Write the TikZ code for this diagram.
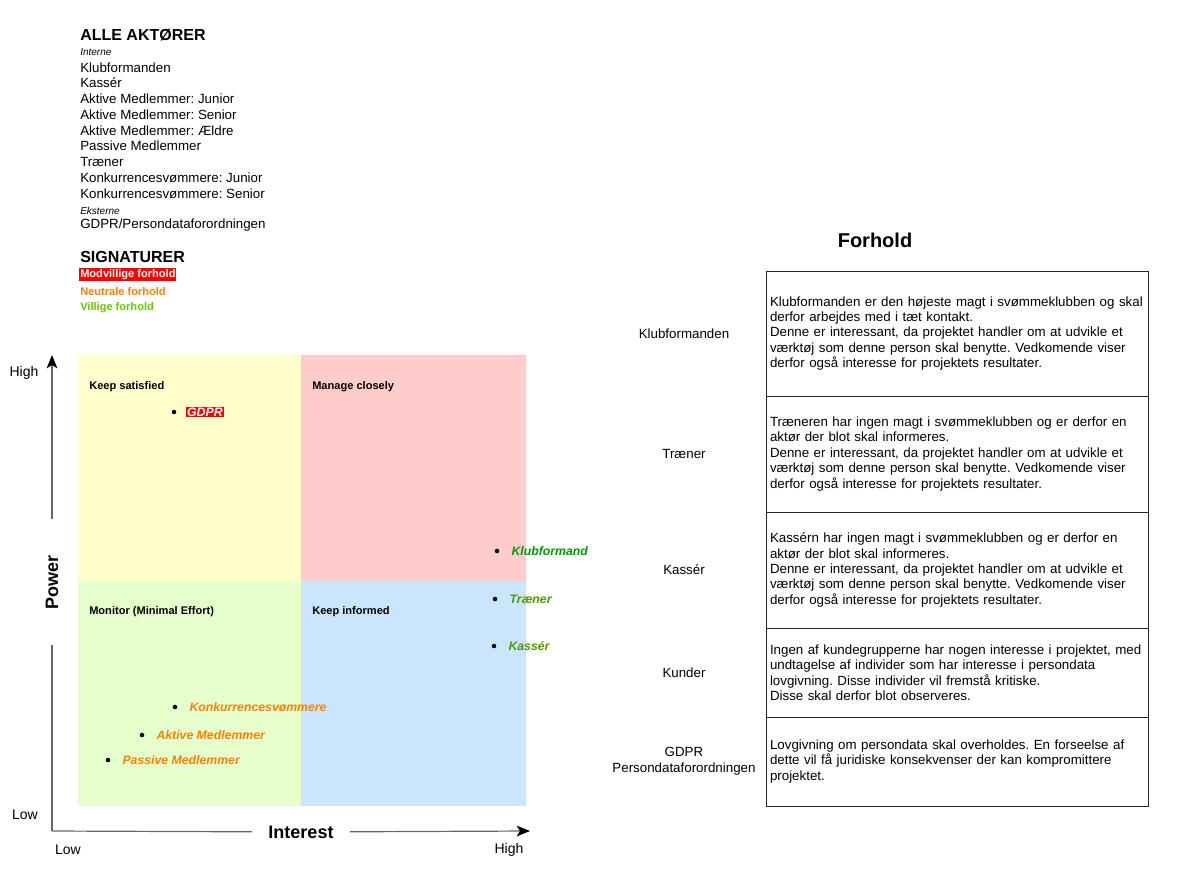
\documentclass[tikz,border=0pt]{standalone}
\usepackage{fontspec}
\setmainfont{Liberation Sans}
\usetikzlibrary{arrows.meta,positioning}
\frenchspacing

\definecolor{qyellow}{HTML}{FFFFCC}
\definecolor{qred}{HTML}{FFCCCC}
\definecolor{qgreen}{HTML}{E6FFCC}
\definecolor{qblue}{HTML}{CCE5FF}
\definecolor{modvillig}{HTML}{FF0000}
\definecolor{neutral}{HTML}{FF8000}
\definecolor{villig}{HTML}{66CC00}
\definecolor{klubgreen}{HTML}{009900}
\definecolor{olivegreen}{HTML}{4D9900}

\begin{document}
\begin{tikzpicture}[x=0.75pt,y=-0.75pt,node distance=8pt,
 txt/.style={anchor=west,inner sep=0pt,yshift=-1pt,font=\fontsize{10}{12}\selectfont},
 small/.style={anchor=west,inner sep=0pt,yshift=-1pt,font=\fontsize{7.5}{9}\selectfont\itshape},
 hdr/.style={anchor=west,inner sep=0pt,yshift=-1pt,font=\fontsize{12}{14}\selectfont\bfseries},
 sig/.style={anchor=west,inner sep=0pt,yshift=-1pt,font=\fontsize{8.3}{10}\selectfont\bfseries},
 qlbl/.style={anchor=west,inner sep=0pt,yshift=-1.2pt,font=\fontsize{8.3}{10}\selectfont\bfseries},
 dot/.style={circle,fill=black,inner sep=0pt,minimum size=3.4pt},
 actor/.style={inner sep=0.8pt,font=\fontsize{9.2}{11}\selectfont\bfseries\itshape},
 axlbl/.style={inner sep=0pt,font=\fontsize{13.5}{16}\selectfont\bfseries},
 tick/.style={font=\fontsize{10.5}{12}\selectfont},
 axis/.style={draw=black!60,line width=0.9pt},
 row/.style={draw=black!85,line width=0.75pt,outer sep=0pt,minimum width=286.5pt,
  text width=280.5pt,inner xsep=3pt,align=left,font=\fontsize{10}{11.6}\selectfont},
 rowlbl/.style={align=center,font=\fontsize{10}{12}\selectfont},
 >={Stealth[length=10pt,width=8pt,inset=2.5pt,color=black]}]
\useasboundingbox (0,0) rectangle (1178,878);

% actor list
\node[hdr] (alle) at (80,34) {ALLE AKTØRER};
\node[small] (interne) at (80,51) {Interne};
\foreach \a [count=\i from 0] in {Klubformanden,Kassér,Aktive Medlemmer: Junior,
 Aktive Medlemmer: Senior,Aktive Medlemmer: Ældre,Passive Medlemmer,Træner,
 Konkurrencesvømmere: Junior,Konkurrencesvømmere: Senior}
 \node[txt] (a\i) at (80,66+15.75*\i) {\a};
\node[small] (eksterne) at (80,210) {Eksterne};
\node[txt] (gdpr) at (80,224) {GDPR/Persondataforordningen};

% signatures
\node[hdr] (sign) at (80,256) {SIGNATURER};
\node[sig,fill=modvillig,text=white,inner xsep=0.6pt,inner ysep=0.8pt] (s1) at (79.2,273) {Modvillige forhold};
\node[sig,text=neutral] (s2) at (80,290) {Neutrale forhold};
\node[sig,text=villig] (s3) at (80,306) {Villige forhold};

% quadrants
\fill[qyellow] (78,355) rectangle (301,581);
\fill[qred] (301,355) rectangle (526,581);
\fill[qgreen] (78,581) rectangle (301,806);
\fill[qblue] (301,581) rectangle (526,806);
\node[qlbl] (q1) at (89,385) {Keep satisfied};
\node[qlbl] (q2) at (312,385) {Manage closely};
\node[qlbl] (q3) at (89,610) {Monitor (Minimal Effort)};
\node[qlbl] (q4) at (312,610) {Keep informed};

% axes
\coordinate (o) at (52,831);
\coordinate (ytop) at (52,355);
\coordinate (xend) at (530,831);
\node[axlbl,rotate=90,minimum width=94pt] (pow) at (52,582) {Power};
\node[axlbl,minimum width=73pt] (int) at (301,832) {Interest};
\draw[axis] (o) -- (pow);
\draw[axis,->] (pow) -- (ytop);
\draw[axis] (o) -- (int);
\draw[axis,->] (int) -- (xend);
\node[tick] (yhigh) at (24,373) {High};
\node[tick] (ylow) at (25,815) {Low};
\node[tick] (xlow) at (68,850) {Low};
\node[tick] (xhigh) at (509,850) {High};

% stakeholders
\node[dot] (dGDPR) at (174,412) {};
\node[actor,fill=modvillig,text=white,right=7pt of dGDPR] (nGDPR) {GDPR};
\node[dot] (dKlub) at (497,551) {};
\node[actor,text=klubgreen,right=of dKlub] (nKlub) {Klubformand};
\node[dot] (dTraener) at (495,599) {};
\node[actor,text=olivegreen,right=of dTraener] (nTraener) {Træner};
\node[dot] (dKasser) at (494,646) {};
\node[actor,text=olivegreen,right=of dKasser] (nKasser) {Kassér};
\node[dot] (dKonk) at (175,707) {};
\node[actor,text=neutral,right=of dKonk] (nKonk) {Konkurrencesvømmere};
\node[dot] (dAktiv) at (142,735) {};
\node[actor,text=neutral,right=of dAktiv] (nAktiv) {Aktive Medlemmer};
\node[dot] (dPassiv) at (108,760) {};
\node[actor,text=neutral,right=of dPassiv] (nPassiv) {Passive Medlemmer};

% relations table
\node[font=\fontsize{15}{18}\selectfont\bfseries] (forhold) at (875,240) {Forhold};
\node[row,minimum height=93.75pt,anchor=north west] (r1) at (766,271)
 {Klubformanden er den højeste magt i svømmeklubben og skal\\derfor arbejdes med i tæt kontakt.\\Denne er interessant, da projektet handler om at udvikle et\\værktøj som denne person skal benytte. Vedkomende viser\\derfor også interesse for projektets resultater.};
\node[row,minimum height=87pt,below=0pt of r1] (r2)
 {Træneren har ingen magt i svømmeklubben og er derfor en\\aktør der blot skal informeres.\\Denne er interessant, da projektet handler om at udvikle et\\værktøj som denne person skal benytte. Vedkomende viser\\derfor også interesse for projektets resultater.};
\node[row,minimum height=87pt,below=0pt of r2] (r3)
 {Kassérn har ingen magt i svømmeklubben og er derfor en\\aktør der blot skal informeres.\\Denne er interessant, da projektet handler om at udvikle et\\værktøj som denne person skal benytte. Vedkomende viser\\derfor også interesse for projektets resultater.};
\node[row,minimum height=66.75pt,below=0pt of r3] (r4)
 {Ingen af kundegrupperne har nogen interesse i projektet, med\\undtagelse af individer som har interesse i persondata\\lovgivning. Disse individer vil fremstå kritiske.\\Disse skal derfor blot observeres.};
\node[row,minimum height=66.75pt,below=0pt of r4] (r5)
 {Lovgivning om persondata skal overholdes. En forseelse af\\dette vil få juridiske konsekvenser der kan kompromittere\\projektet.};
\node[rowlbl] (l1) at ([xshift=-61.5pt]r1.west) {Klubformanden};
\node[rowlbl] (l2) at ([xshift=-61.5pt]r2.west) {Træner};
\node[rowlbl] (l3) at ([xshift=-61.5pt]r3.west) {Kassér};
\node[rowlbl] (l4) at ([xshift=-61.5pt]r4.west) {Kunder};
\node[rowlbl] (l5) at ([xshift=-61.5pt]r5.west) {GDPR\\Persondataforordningen};
\end{tikzpicture}
\end{document}
